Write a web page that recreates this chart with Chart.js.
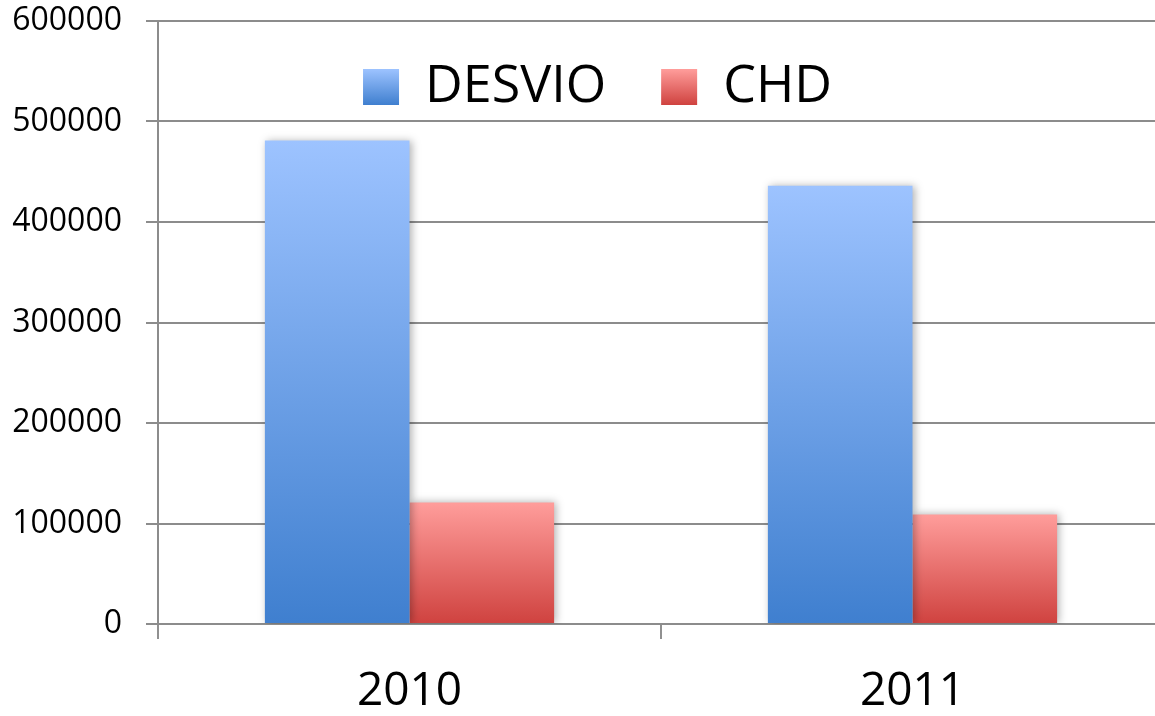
<!DOCTYPE html>
<html>
<head>
<meta charset="utf-8">
<title>DESVIO x CHD</title>
<script src="https://cdn.jsdelivr.net/npm/chart.js@4"></script>
<style>
  body { margin: 0; background: #fff; }
  #wrap { width: 1155px; height: 716px; }
</style>
</head>
<body>
<div id="wrap"><canvas id="barCanvas" width="1155" height="716"></canvas></div>
<script>
const categories = ["2010", "2011"];
const seriesNames = ["DESVIO", "CHD"];
const desvioValues = [481000, 436000];
const chdValues = [121000, 109000];
const yTicks = [0, 100000, 200000, 300000, 400000, 500000, 600000];

const fontFamily = "'Open Sans', 'Liberation Sans', sans-serif";

// light (top) -> dark (bottom) per series
const blueStops = ["#9dc3ff", "#3f7fcf"];
const redStops = ["#ff9d9b", "#cf423f"];

function barFill(stops) {
  return function (ctx) {
    const chart = ctx.chart;
    if (!chart.chartArea || ctx.raw === undefined) return stops[0];
    const y = chart.scales.y;
    const g = chart.ctx.createLinearGradient(0, y.getPixelForValue(ctx.raw), 0, y.getPixelForValue(0));
    g.addColorStop(0, stops[0]);
    g.addColorStop(1, stops[1]);
    return g;
  };
}

// soft shadow round the bars
const barShadow = {
  id: "barShadow",
  beforeDatasetsDraw(chart) {
    const c = chart.ctx;
    c.save();
    c.shadowColor = "rgba(0,0,0,0.3)";
    c.shadowBlur = 8;
    c.shadowOffsetX = 2;
  },
  afterDatasetsDraw(chart) {
    chart.ctx.restore();
  }
};

// legend is drawn over the top of the plot, so it takes no room in the layout;
// the plot also runs a little past the right edge of the canvas
const layoutTweak = {
  id: "layoutTweak",
  afterInit(chart) {
    const lg = chart.legend;
    const fit = lg.fit.bind(lg);
    lg.fit = function () { fit(); this._fullHeight = this.height; this.height = 0; };
  },
  afterLayout(chart) {
    const lg = chart.legend;
    lg.left += 20; lg.right += 20;
    lg.top -= 15;
    lg.height = lg._fullHeight;
    lg.bottom = lg.top + lg.height;

    const x = chart.scales.x;
    x.right += 9; x.width += 9;
    x.configure();
    chart.chartArea.right += 9;
    chart.chartArea.width += 9;
  },
  beforeDraw(chart) {
    const lg = chart.legend;
    if (!lg.legendItems) return;
    const top = lg.top + 55 + 8, bottom = top + 36;
    [blueStops, redStops].forEach((s, i) => {
      const g = chart.ctx.createLinearGradient(0, top, 0, bottom);
      g.addColorStop(0, s[0]);
      g.addColorStop(1, s[1]);
      if (lg.legendItems[i]) lg.legendItems[i].fillStyle = g;
    });
  }
};

new Chart(document.getElementById("barCanvas"), {
  type: "bar",
  data: {
    labels: categories,
    datasets: [
      { label: seriesNames[0], data: desvioValues, backgroundColor: barFill(blueStops), borderWidth: 0 },
      { label: seriesNames[1], data: chdValues, backgroundColor: barFill(redStops), borderWidth: 0 }
    ]
  },
  plugins: [barShadow, layoutTweak],
  options: {
    responsive: false,
    animation: false,
    layout: { padding: { top: 21, right: 0, bottom: -29, left: 0 } },
    datasets: { bar: { categoryPercentage: 0.575, barPercentage: 1.0 } },
    plugins: {
      legend: {
        position: "top",
        align: "center",
        labels: {
          boxWidth: 36,
          boxHeight: 36,
          padding: 55,
          color: "#000",
          font: { family: fontFamily, size: 52 }
        }
      },
      tooltip: { enabled: false }
    },
    scales: {
      x: {
        grid: { display: true, drawOnChartArea: false, color: "#909090", lineWidth: 2, tickLength: 15 },
        border: { display: false },
        ticks: { color: "#000", padding: 30, font: { family: fontFamily, size: 46, lineHeight: 1 } }
      },
      y: {
        min: 0,
        max: 600000,
        afterFit(s) { s.width = 158; s.paddingTop = 0; s.paddingBottom = 0; },
        afterBuildTicks(s) { s.ticks = yTicks.map(v => ({ value: v })); },
        grid: { color: "#8c8c8c", lineWidth: 2, tickLength: 12 },
        border: { display: true, color: "#8c8c8c", width: 2 },
        ticks: {
          color: "#000",
          padding: 24,
          font: { family: fontFamily, size: 32 },
          callback: v => String(v)
        }
      }
    }
  }
});
</script>
</body>
</html>
